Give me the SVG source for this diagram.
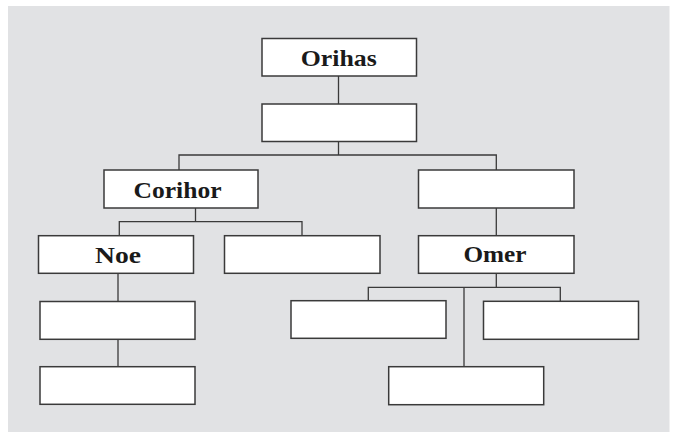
<svg xmlns="http://www.w3.org/2000/svg" width="676" height="432" viewBox="0 0 676 432">
<style>
.bx{fill:#ffffff;stroke:#3a3a3a;stroke-width:1.5}
.ln{fill:none;stroke:#3a3a3a;stroke-width:1.3}
.tx{font-family:"Liberation Serif","Times New Roman",serif;font-weight:bold;font-size:24px;fill:#1a1a1a;text-anchor:middle}
</style>
<rect x="8" y="6" width="661.5" height="426" fill="#e1e2e4"/>
<g id="connectors">
<path class="ln" d="M338.5,76 V104"/>
<path class="ln" d="M338.5,141.5 V155 M179,170 V155 H496.3 V170"/>
<path class="ln" d="M195.5,208 V221.7 M119.3,235.7 V221.7 H302 V235.7"/>
<path class="ln" d="M496.3,208 V235.7"/>
<path class="ln" d="M496.3,273.3 V287.3 M368.3,300.7 V287.3 H560.3 V301.3 M464,287.3 V366.7"/>
<path class="ln" d="M118,273.3 V301.5 M118,339.3 V366.7"/>
</g>
<g id="orihas"><rect class="bx" x="262" y="38.5" width="154.5" height="37.5"/><text class="tx" x="338.7" y="66" textLength="76" lengthAdjust="spacingAndGlyphs">Orihas</text></g>
<g id="n2"><rect class="bx" x="262" y="104" width="154.5" height="37.5"/></g>
<g id="corihor"><rect class="bx" x="104" y="170" width="154" height="38"/><text class="tx" x="177.5" y="198.3" textLength="88" lengthAdjust="spacingAndGlyphs">Corihor</text></g>
<g id="r1"><rect class="bx" x="418.5" y="170" width="155.5" height="38"/></g>
<g id="noe"><rect class="bx" x="38.5" y="235.7" width="155" height="37.6"/><text class="tx" x="118" y="263" textLength="46" lengthAdjust="spacingAndGlyphs">Noe</text></g>
<g id="c2"><rect class="bx" x="224.5" y="235.7" width="155.5" height="37.6"/></g>
<g id="omer"><rect class="bx" x="418.5" y="235.7" width="155.5" height="37.6"/><text class="tx" x="495" y="262" textLength="63" lengthAdjust="spacingAndGlyphs">Omer</text></g>
<g id="n1a"><rect class="bx" x="40" y="301.5" width="155" height="37.8"/></g>
<g id="n1b"><rect class="bx" x="40" y="366.7" width="155" height="37.6"/></g>
<g id="o1"><rect class="bx" x="291" y="300.7" width="155" height="37.6"/></g>
<g id="o2"><rect class="bx" x="483.5" y="301.3" width="155" height="38"/></g>
<g id="o3"><rect class="bx" x="388.7" y="366.7" width="155" height="38"/></g>
</svg>
